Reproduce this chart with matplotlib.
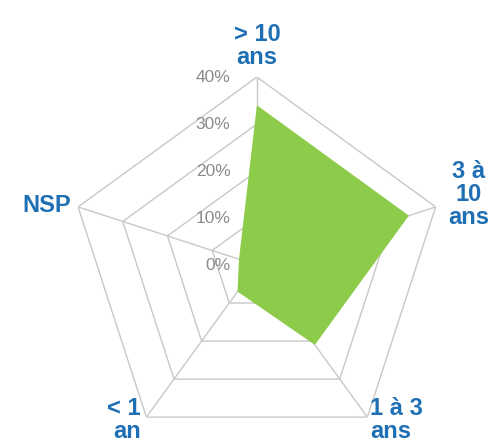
import numpy as np
import matplotlib.pyplot as plt

# categories, clockwise starting from the top
categories = ["> 10\nans", "3 à\n10\nans", "1 à 3\nans", "< 1\nan", "NSP"]
values = [0.34, 0.34, 0.21, 0.07, 0.04]
ring_levels = [0.1, 0.2, 0.3, 0.4]
tick_labels = ["0%", "10%", "20%", "30%", "40%"]

blue = "#1f6fb4"
green = "#8dcc4a"
grid_col = "#c8c8c8"

n = len(categories)
angles = np.linspace(0, 2 * np.pi, n, endpoint=False)
closed = np.append(angles, angles[0])

fig = plt.figure(figsize=(4.93, 4.46), dpi=100)
ax = fig.add_axes([0.1397, -0.0157, 0.7627, 0.8430], projection="polar")
ax.set_theta_offset(np.pi / 2)
ax.set_theta_direction(-1)
ax.set_ylim(0, 0.4)
ax.grid(False)
ax.spines["polar"].set_visible(False)
ax.set_xticks([])
ax.set_yticks([])
ax.patch.set_alpha(0)

# pentagon rings and spokes
for lv in ring_levels:
    ax.plot(closed, [lv] * (n + 1), color=grid_col, lw=1.0, zorder=1)
for a in angles:
    ax.plot([a, a], [0, 0.4], color=grid_col, lw=1.0, zorder=1)

# data polygon
ax.fill(closed, np.append(values, values[0]), color=green, lw=0, zorder=2)

# percentage labels along the top spoke
for i, lab in enumerate(tick_labels):
    ax.annotate(lab, xy=(0, i * 0.1), xytext=(-19, 0), textcoords="offset points",
                ha="right", va="center", fontsize=12.5, color="#8a8a8a",
                family="Liberation Sans", zorder=3)

# category labels
lab_kw = dict(fontsize=17, fontweight="bold", color=blue,
              family="Liberation Sans", linespacing=1.0,
              textcoords="offset points", annotation_clip=False)
ax.annotate(categories[0], xy=(angles[0], 0.4), xytext=(0, 6),
            ha="center", va="bottom", **lab_kw)
ax.annotate(categories[1], xy=(angles[1], 0.4), xytext=(24, 9),
            ha="center", va="center", **lab_kw)
ax.annotate(categories[2], xy=(angles[2], 0.4), xytext=(2, -2),
            ha="left", va="center", **lab_kw)
ax.annotate(categories[3], xy=(angles[3], 0.4), xytext=(-4, -2),
            ha="right", va="center", **lab_kw)
ax.annotate(categories[4], xy=(angles[4], 0.4), xytext=(-5, 1),
            ha="right", va="center", **lab_kw)

fig.savefig("out.png", dpi=100)
